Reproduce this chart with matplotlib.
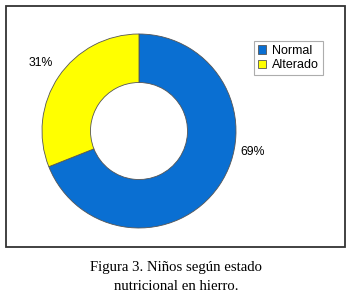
import matplotlib.pyplot as plt
from matplotlib.patches import Rectangle

labels = ['Normal', 'Alterado']
values = [69, 31]
colors = ['#0A6FD2', '#FFFF00']
pct_text = ['69%', '31%']

W, H = 352, 301
fig = plt.figure(figsize=(W / 100, H / 100), dpi=100)
fig.patch.set_facecolor('white')

def fx(px):
    return px / W

def fy(py):
    return 1 - py / H

# frame around chart
fig.add_artist(Rectangle((fx(6), fy(246.5)), (345 - 6) / W, (246.5 - 6) / H,
                         transform=fig.transFigure, fill=False,
                         edgecolor='#333333', linewidth=1.3))

# donut
cx, cy, r = 139, 131, 97
ax = fig.add_axes([fx(cx - r), fy(cy + r), 2 * r / W, 2 * r / H])
wedges, _ = ax.pie(values, colors=colors, startangle=90, counterclock=False,
                   radius=1.0,
                   wedgeprops=dict(width=0.5, edgecolor='#555555', linewidth=0.6))
ax.set_xlim(-1, 1)
ax.set_ylim(-1, 1)
ax.set_aspect('equal')
ax.axis('off')

fig.text(fx(253), fy(152), pct_text[0], fontsize=8.8, family='Liberation Sans',
         ha='center', va='center')
fig.text(fx(41), fy(63), pct_text[1], fontsize=8.8, family='Liberation Sans',
         ha='center', va='center')

leg = fig.legend(wedges, labels, loc='upper left',
                 bbox_to_anchor=(fx(254), fy(41)), fancybox=False,
                 prop={'family': 'Liberation Sans', 'size': 9},
                 handlelength=0.65, handleheight=0.65, handletextpad=0.5,
                 borderpad=0.3, labelspacing=0.2, borderaxespad=0)
leg.get_frame().set_edgecolor('#999999')
leg.get_frame().set_linewidth(0.8)

fig.text(0.5, fy(268), 'Figura 3. Niños según estado', fontsize=10.6,
         family='Liberation Serif', ha='center', va='center')
fig.text(0.5, fy(287), 'nutricional en hierro.', fontsize=10.6,
         family='Liberation Serif', ha='center', va='center')

fig.savefig('out.png', dpi=100)
